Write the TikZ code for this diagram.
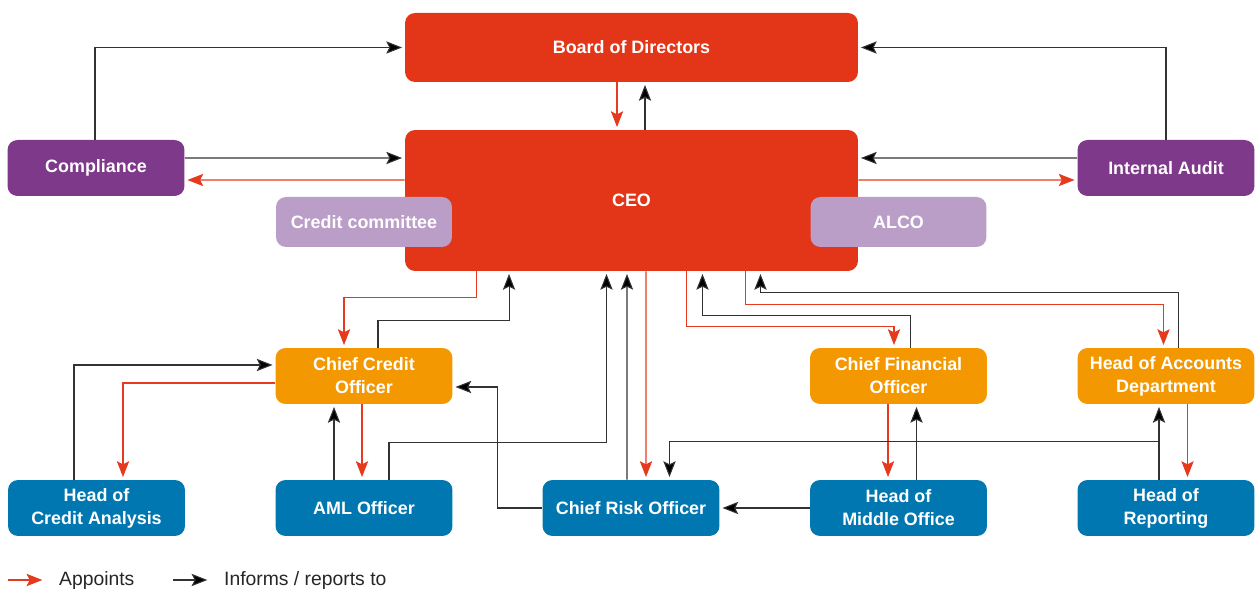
\documentclass[tikz,border=0pt]{standalone}
\usepackage{fontspec}
\setmainfont{Liberation Sans}
\usetikzlibrary{arrows.meta}

\definecolor{boardred}{RGB}{227,54,24}
\definecolor{staffpurple}{RGB}{126,57,138}
\definecolor{cmtlilac}{RGB}{186,158,200}
\definecolor{chieforange}{RGB}{243,152,0}
\definecolor{unitblue}{RGB}{0,119,176}
\definecolor{apptred}{RGB}{230,58,30}
\definecolor{infogray}{RGB}{50,50,50}

\tikzset{
  box/.style={rounded corners=0.2cm, text=white, align=center, inner sep=0pt,
    font=\bfseries\fontsize{10.2}{13}\selectfont,
    minimum width=3.54cm, minimum height=1.12cm},
  top box/.style={box, fill=boardred, minimum width=9.06cm},
  staff/.style={box, fill=staffpurple},
  committee/.style={box, fill=cmtlilac, minimum width=3.52cm, minimum height=1cm},
  chief/.style={box, fill=chieforange},
  unit/.style={box, fill=unitblue},
  appoints/.style={draw=apptred, line width=0.6pt, shorten >=1.5pt,
    -{Stealth[length=9pt,width=7pt,inset=1.8pt,fill=apptred]}},
  informs/.style={draw=infogray, line width=0.6pt, shorten >=1.5pt,
    -{Stealth[length=9pt,width=7pt,inset=1.8pt,fill=black]}},
  legend/.style={font=\fontsize{11}{13}\selectfont, text=black!85}
}

\begin{document}
\begin{tikzpicture}[x=0.02cm, y=-0.02cm]
\useasboundingbox (0,0) rectangle (1255,590);

\node[top box, minimum height=1.38cm] (bod) at (631.5,47.5) {Board of Directors};
\node[top box, minimum height=2.82cm] (ceo) at (631.5,200.5) {CEO};
\node[staff] (comp) at (96,168) {Compliance};
\node[staff] (audit) at (1166,168) {Internal Audit};
\node[committee] (cc) at (364,222) {Credit committee};
\node[committee] (alco) at (898.5,222) {ALCO};
\node[chief] (cco) at (364,376) {Chief Credit\\Officer};
\node[chief] (cfo) at (898.5,376) {Chief Financial\\Officer};
\node[chief] (hoad) at (1166,376) {Head of Accounts\\Department};
\node[unit] (hca) at (96.5,508) {Head of\\Credit Analysis};
\node[unit] (aml) at (364,508) {AML Officer};
\node[unit] (cro) at (631,508) {Chief Risk Officer};
\node[unit] (hmo) at (898.5,508) {Head of\\Middle Office};
\node[unit] (hor) at (1166,508) {Head of\\Reporting};

% board, compliance and audit
\draw[informs] ([xshift=-0.02cm]comp.north) |- (bod.west);
\draw[informs] ([yshift=0.2cm]comp.east) -- ([yshift=0.85cm]ceo.west);
\draw[appoints] ([yshift=0.41cm]ceo.west) -- ([yshift=-0.24cm]comp.east);
\draw[informs] (audit.north) |- (bod.east);
\draw[informs] ([yshift=0.2cm]audit.west) -- ([yshift=0.85cm]ceo.east);
\draw[appoints] ([yshift=0.41cm]ceo.east) -- ([yshift=-0.24cm]audit.west);
\draw[appoints] ([xshift=-0.29cm]bod.south) -- ([xshift=-0.29cm]ceo.north);
\draw[informs] ([xshift=0.27cm]ceo.north) -- ([xshift=0.27cm]bod.south);

% credit side
\draw[appoints] ([xshift=-3.11cm]ceo.south) |- ([xshift=-0.4cm,yshift=1cm]cco.north) -- ([xshift=-0.4cm]cco.north);
\draw[informs] ([xshift=0.28cm]cco.north) |- ([xshift=-2.45cm,yshift=-0.98cm]ceo.south) -- ([xshift=-2.45cm]ceo.south);
\draw[informs] ([xshift=-0.45cm]hca.north) |- ([yshift=0.22cm]cco.west);
\draw[appoints] ([yshift=-0.14cm]cco.west) -| ([xshift=0.53cm]hca.north);
\draw[informs] ([xshift=-0.6cm]aml.north) -- ([xshift=-0.6cm]cco.south);
\draw[appoints] ([xshift=-0.04cm]cco.south) -- ([xshift=-0.04cm]aml.north);
\draw[informs] ([xshift=0.5cm]aml.north) |- ([xshift=-0.5cm,yshift=-3.42cm]ceo.south) -- ([xshift=-0.5cm]ceo.south);

% risk
\draw[informs] ([xshift=-0.08cm]cro.north) -- ([xshift=-0.09cm]ceo.south);
\draw[appoints] ([xshift=0.29cm]ceo.south) -- ([xshift=0.3cm]cro.north);
\draw[informs] (cro.west) -| ([xshift=0.9cm,yshift=-0.22cm]cco.east) -- ([yshift=-0.22cm]cco.east);

% finance side
\draw[appoints] ([xshift=1.1cm]ceo.south) |- ([xshift=-0.09cm,yshift=0.43cm]cfo.north) -- ([xshift=-0.09cm]cfo.north);
\draw[informs] ([xshift=0.24cm]cfo.north) |- ([xshift=1.42cm,yshift=-0.89cm]ceo.south) -- ([xshift=1.42cm]ceo.south);
\draw[appoints] ([xshift=2.28cm]ceo.south) |- ([xshift=-0.05cm,yshift=0.87cm]hoad.north) -- ([xshift=-0.05cm]hoad.north);
\draw[informs] ([xshift=0.25cm]hoad.north) |- ([xshift=2.58cm,yshift=-0.43cm]ceo.south) -- ([xshift=2.58cm]ceo.south);
\draw[appoints] ([xshift=-0.21cm]cfo.south) -- ([xshift=-0.21cm]hmo.north);
\draw[informs] ([xshift=0.36cm]hmo.north) -- ([xshift=0.36cm]cfo.south);
\draw[informs] (hmo.west) -- (cro.east);
\draw[appoints] ([xshift=0.43cm]hoad.south) -- ([xshift=0.43cm]hor.north);
\draw[informs] ([xshift=-0.14cm]hor.north) -- ([xshift=-0.14cm]hoad.south);
\draw[informs] ([xshift=-0.14cm]hor.north) |- ([xshift=0.77cm,yshift=0.77cm]cro.north) -- ([xshift=0.77cm]cro.north);

% key
\coordinate (keyA) at (8,580);
\coordinate (keyB) at (173,580);
\node[legend, anchor=west] (keyAtext) at (53,581) {Appoints};
\node[legend, anchor=west] (keyBtext) at (218,581) {Informs / reports to};
\draw[appoints] (keyA) -- ([xshift=-0.16cm,yshift=0.02cm]keyAtext.west);
\draw[informs] (keyB) -- ([xshift=-0.16cm,yshift=0.02cm]keyBtext.west);
\end{tikzpicture}
\end{document}
